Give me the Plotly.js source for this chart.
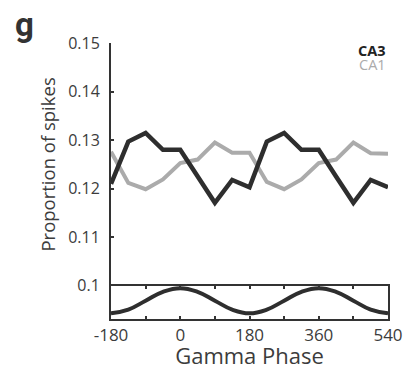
<!DOCTYPE html>
<html>
<head>
<meta charset="utf-8">
<script src="https://cdn.plot.ly/plotly-3.0.1.min.js"></script>
<style>
  html, body { margin: 0; padding: 0; background: #fff; }
  #chart { width: 408px; height: 370px; }
</style>
</head>
<body>
<div id="chart"></div>
<script>
// Gamma phase bins (degrees), two cycles shown
const phase = [-180, -135, -90, -45, 0, 45, 90, 135, 180, 225, 270, 315, 360, 405, 450, 495, 540];

// Proportion of spikes per gamma phase bin
const ca3 = [0.1210, 0.1297, 0.1315, 0.1280, 0.1280, 0.1225, 0.1171, 0.1218, 0.1203,
             0.1297, 0.1315, 0.1280, 0.1280, 0.1225, 0.1171, 0.1218, 0.1203];
const ca1 = [0.1276, 0.1212, 0.1199, 0.1219, 0.1253, 0.1260, 0.1295, 0.1274, 0.1274,
             0.1214, 0.1199, 0.1219, 0.1253, 0.1260, 0.1295, 0.1273, 0.1272];

// Reference gamma oscillation (normalised amplitude)
const gammaWave = [-1, -0.71, 0, 0.71, 1, 0.71, 0, -0.71, -1, -0.71, 0, 0.71, 1, 0.71, 0, -0.71, -1];

const yTicks = [0.10, 0.11, 0.12, 0.13, 0.14, 0.15];
const yTickText = ['0.1', '0.11', '0.12', '0.13', '0.14', '0.15'];
const xTicks = [-180, -90, 0, 90, 180, 270, 360, 450, 540];
const xTickText = ['-180', '', '0', '', '180', '', '360', '', '540'];

const dark = '#2e2e2e';
const grey = '#ababab';
const axisCol = '#333333';
const textCol = '#3c3c3c';
const fontFam = '"Open Sans", "Noto Sans", sans-serif';

const traces = [
  {
    x: phase, y: ca1, xaxis: 'x', yaxis: 'y', mode: 'lines', name: 'CA1',
    line: { color: grey, width: 4 }, hoverinfo: 'skip'
  },
  {
    x: phase, y: ca3, xaxis: 'x', yaxis: 'y', mode: 'lines', name: 'CA3',
    line: { color: dark, width: 4.5 }, hoverinfo: 'skip'
  },
  {
    x: phase, y: gammaWave, xaxis: 'x', yaxis: 'y2', mode: 'lines', name: 'gamma',
    line: { color: dark, width: 4, shape: 'spline', smoothing: 1.3 }, hoverinfo: 'skip'
  }
];

const layout = {
  width: 408, height: 370,
  margin: { l: 111, r: 20, t: 43, b: 51 },
  paper_bgcolor: '#ffffff', plot_bgcolor: '#ffffff',
  showlegend: false,
  font: { family: fontFam, color: textCol },
  xaxis: {
    anchor: 'y2', range: [-180, 540],
    tickvals: xTicks, ticktext: xTickText,
    ticks: 'inside', ticklen: 3, tickwidth: 2, tickcolor: axisCol,
    showline: true, linecolor: axisCol, linewidth: 2, mirror: 'ticks',
    showgrid: false, zeroline: false,
    tickfont: { size: 17, family: fontFam, color: textCol },
    title: { text: 'Gamma Phase', font: { size: 22, family: fontFam, color: textCol }, standoff: 5 }
  },
  yaxis: {
    domain: [0.12, 1], range: [0.1, 0.15],
    tickvals: yTicks, ticktext: yTickText,
    ticks: 'inside', ticklen: 3, tickwidth: 2, tickcolor: axisCol,
    ticklabelstandoff: 6,
    showline: true, linecolor: axisCol, linewidth: 2,
    showgrid: false, zeroline: false,
    tickfont: { size: 16, family: fontFam, color: textCol },
    title: { text: 'Proportion of spikes', font: { size: 18.5, family: fontFam, color: textCol }, standoff: 8 }
  },
  yaxis2: {
    domain: [0, 0.12], range: [-1.46, 1.18],
    showticklabels: false, ticks: '',
    showline: true, linecolor: axisCol, linewidth: 2, mirror: true,
    showgrid: false, zeroline: false
  },
  annotations: [
    { text: 'g', xref: 'paper', yref: 'paper', x: -0.314, y: 1.067, xanchor: 'center', yanchor: 'middle',
      showarrow: false, font: { size: 33, family: 'Roboto, "DejaVu Sans", sans-serif', weight: 'bold', color: '#333333' } },
    { text: '<b>CA3</b>', xref: 'paper', yref: 'paper', x: 1, y: 0.972, xanchor: 'right', yanchor: 'middle',
      showarrow: false, font: { size: 14.5, family: fontFam, color: '#222222' } },
    { text: 'CA1', xref: 'paper', yref: 'paper', x: 1, y: 0.922, xanchor: 'right', yanchor: 'middle',
      showarrow: false, font: { size: 14.5, family: fontFam, color: grey } }
  ]
};

Plotly.newPlot('chart', traces, layout, { staticPlot: true, displayModeBar: false });
</script>
</body>
</html>
